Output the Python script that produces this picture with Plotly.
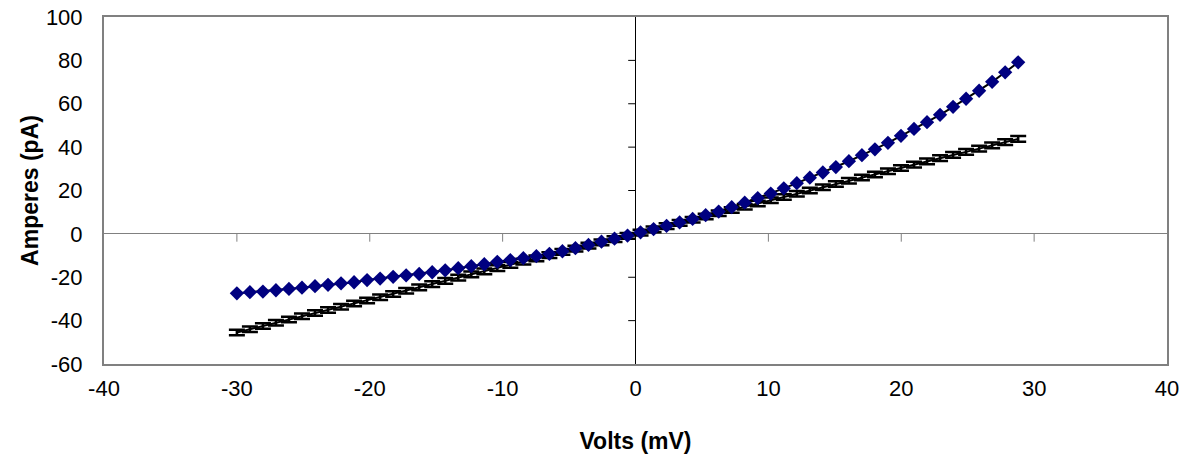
import plotly.graph_objects as go

# ---- data ----
volts = [-30.00, -29.02, -28.04, -27.06, -26.08, -25.10, -24.12, -23.14, -22.16, -21.18,
         -20.20, -19.22, -18.24, -17.26, -16.28, -15.30, -14.32, -13.34, -12.36, -11.38,
         -10.40, -9.42, -8.44, -7.46, -6.48, -5.50, -4.52, -3.54, -2.56, -1.58,
         -0.60, 0.38, 1.36, 2.34, 3.32, 4.30, 5.28, 6.26, 7.24, 8.22,
         9.20, 10.18, 11.16, 12.14, 13.12, 14.10, 15.08, 16.06, 17.04, 18.02,
         19.00, 19.98, 20.96, 21.94, 22.92, 23.90, 24.88, 25.86, 26.84, 27.82,
         28.80]

amps_blue = [-27.4, -26.9, -26.6, -26.0, -25.4, -24.8, -24.1, -23.5, -22.8, -22.3,
             -21.3, -20.6, -19.8, -19.1, -18.5, -17.7, -16.8, -15.8, -14.9, -14.0,
             -12.9, -12.1, -11.2, -10.3, -9.2, -8.0, -6.6, -5.1, -3.6, -2.2,
             -0.8, 0.7, 2.2, 3.7, 5.3, 6.9, 8.6, 10.3, 12.3, 14.4,
             16.5, 18.6, 21.0, 23.4, 25.9, 28.3, 30.8, 33.5, 36.3, 39.0,
             42.0, 45.2, 48.4, 51.5, 54.9, 58.6, 62.3, 66.0, 70.1, 74.5,
             79.1]

amps_black = [-45.5, -44.0, -42.5, -41.0, -39.5, -38.0, -36.5, -35.1, -33.6, -32.1,
              -30.7, -29.2, -27.7, -26.2, -24.7, -23.2, -21.7, -20.2, -18.7, -17.3,
              -15.8, -14.3, -12.8, -11.3, -9.8, -8.3, -6.8, -5.4, -3.9, -2.4,
              -0.9, 0.6, 2.1, 3.6, 5.1, 6.5, 8.0, 9.5, 11.0, 12.5,
              14.0, 15.5, 17.0, 18.5, 20.0, 21.5, 23.0, 24.5, 26.0, 27.4,
              28.9, 30.4, 31.9, 33.4, 34.9, 36.4, 37.8, 39.3, 40.8, 42.3,
              43.8]
err_black = [1.3] * len(amps_black)

x_ticks = [-40, -30, -20, -10, 0, 10, 20, 30, 40]
y_ticks = [-60, -40, -20, 0, 20, 40, 60, 80, 100]
x_range = [-40, 40]
y_range = [-60, 100]

FONT = "Liberation Sans, Arial, sans-serif"

fig = go.Figure()

# tick marks on the zero-crossing axes (drawn through the data scales)
xt = [v for v in x_ticks if v != 0 and x_range[0] < v < x_range[1]]
yt = [v for v in y_ticks if v != 0 and y_range[0] < v < y_range[1]]
fig.add_trace(go.Scatter(
    x=xt, y=[0] * len(xt), mode="markers",
    marker=dict(size=1, color="rgba(0,0,0,0)"),
    error_y=dict(type="data", symmetric=False, array=[0] * len(xt),
                 arrayminus=[3.6] * len(xt), width=0, thickness=1, color="#808080"),
    hoverinfo="skip", showlegend=False))
fig.add_trace(go.Scatter(
    x=[0] * len(yt), y=yt, mode="markers",
    marker=dict(size=1, color="rgba(0,0,0,0)"),
    error_x=dict(type="data", symmetric=False, array=[0] * len(yt),
                 arrayminus=[0.55] * len(yt), width=0, thickness=1, color="#000000"),
    hoverinfo="skip", showlegend=False))

# black series with error bars
fig.add_trace(go.Scatter(
    x=volts, y=amps_black, mode="lines",
    line=dict(color="#000000", width=2),
    error_y=dict(type="data", array=err_black, width=8, thickness=2.5, color="#000000"),
    showlegend=False))

# blue diamonds series
fig.add_trace(go.Scatter(
    x=volts, y=amps_blue, mode="lines+markers",
    line=dict(color="#000000", width=2),
    marker=dict(symbol="diamond", size=11, color="#000080"),
    showlegend=False))

fig.update_layout(
    width=1191, height=461,
    margin=dict(l=103.5, r=23.5, t=17.3, b=96.5),
    paper_bgcolor="white", plot_bgcolor="white",
    font=dict(family=FONT, size=22, color="#000000"),
    showlegend=False,
)
fig.update_xaxes(
    range=x_range, tickvals=x_ticks, ticktext=[str(v) for v in x_ticks],
    showgrid=False, ticks="", showline=True, mirror=True,
    linecolor="#808080", linewidth=2,
    zeroline=True, zerolinecolor="#000000", zerolinewidth=1,
    ticklabelstandoff=4, ticklabeloverflow="allow",
    title=dict(text="<b>Volts (mV)</b>", font=dict(family=FONT, size=23), standoff=32),
    automargin=False,
)
fig.update_yaxes(
    range=y_range, tickvals=y_ticks, ticktext=[str(v) for v in y_ticks],
    showgrid=False, ticks="", showline=True, mirror=True,
    linecolor="#808080", linewidth=2,
    zeroline=True, zerolinecolor="#808080", zerolinewidth=1,
    ticklabelstandoff=15, ticklabeloverflow="allow",
    title=dict(text="<b>Amperes (pA)</b>", font=dict(family=FONT, size=23), standoff=1),
    automargin=False,
)

# remove the page's default body margin so the figure fills the window exactly
fig.write_html("out.html", config={"displayModeBar": False},
               post_script="document.body.style.margin='0';")
